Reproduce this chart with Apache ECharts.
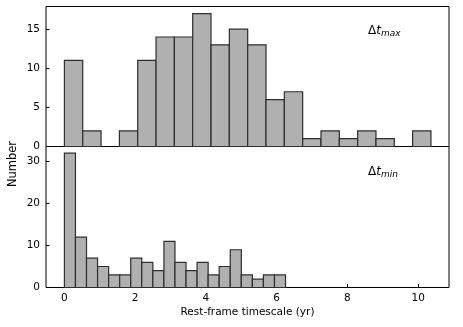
<!DOCTYPE html>
<html>
<head>
<meta charset="utf-8">
<script src="https://cdn.jsdelivr.net/npm/echarts@6/dist/echarts.min.js"></script>
<style>
  html, body { margin: 0; padding: 0; background: #fff; }
  #chart { width: 463px; height: 327px; }
</style>
</head>
<body>
<div id="chart"></div>
<script>
// histogram counts
const topCounts = [11, 2, 0, 2, 11, 14, 14, 17, 13, 15, 13, 6, 7, 1, 2, 1, 2, 1, 0, 2];
const bottomCounts = [32, 12, 7, 5, 3, 3, 7, 6, 4, 11, 6, 4, 6, 3, 5, 9, 3, 2, 3, 3];
const topBinStart = 0, topBinWidth = 0.518;
const bottomBinStart = 0, bottomBinWidth = 0.3125;
const xTicks = [0, 2, 4, 6, 8, 10];
const topYTicks = [0, 5, 10, 15];
const bottomYTicks = [0, 10, 20, 30];

const FONT = 'DejaVu Sans';
const FS = 10.5;

function toBins(counts, start, width) {
    // [left edge, right edge, count]
    return counts.map((c, i) => [start + i * width, start + (i + 1) * width, c]);
}

function renderBar(params, api) {
    const h = api.value(2);
    if (!h) return null;
    const p0 = api.coord([api.value(0), h]);
    const p1 = api.coord([api.value(1), 0]);
    return {
        type: 'rect',
        shape: { x: p0[0], y: p0[1], width: p1[0] - p0[0], height: p1[1] - p0[1] },
        style: { fill: '#b0b0b0', stroke: '#2e2e2e', lineWidth: 1.2 }
    };
}

function xAxisFor(idx, showLabels) {
    return {
        type: 'value', gridIndex: idx, min: -0.52, max: 10.87,
        splitLine: { show: false },
        axisLine: { show: false, onZero: false },
        axisTick: { inside: true, length: 3.5, customValues: xTicks, lineStyle: { color: '#000' } },
        axisLabel: { show: showLabels, customValues: xTicks, margin: 5, color: '#000', fontFamily: FONT, fontSize: FS },
        name: showLabels ? 'Rest-frame timescale (yr)' : '',
        nameLocation: 'middle', nameGap: 19,
        nameTextStyle: { color: '#000', fontFamily: FONT, fontSize: FS }
    };
}

function yAxisFor(idx, max, ticks) {
    return {
        type: 'value', gridIndex: idx, min: 0, max: max,
        splitLine: { show: false },
        axisLine: { show: false, onZero: false },
        axisTick: { inside: true, length: 3.5, customValues: ticks, lineStyle: { color: '#000' } },
        axisLabel: { customValues: ticks, margin: 6, color: '#000', fontFamily: FONT, fontSize: FS }
    };
}

function deltaLabel(x, y, sub) {
    return {
        type: 'text', x: x, y: y,
        style: {
            text: '{d|Δ}{t|t}{s|' + sub + '}',
            verticalAlign: 'middle',
            rich: {
                d: { fontFamily: FONT, fontSize: 12, fill: '#000' },
                t: { fontFamily: FONT, fontSize: 12, fontStyle: 'italic', fill: '#000' },
                s: { fontFamily: FONT, fontSize: 9, fontStyle: 'italic', fill: '#000', padding: [5, 0, 0, 0] }
            }
        }
    };
}

const chart = echarts.init(document.getElementById('chart'), null, { renderer: 'canvas' });

chart.setOption({
    animation: false,
    grid: [
        { left: 46, right: 14, top: 6.5, height: 140, show: true, borderColor: '#000', borderWidth: 1, backgroundColor: 'transparent' },
        { left: 46, right: 14, top: 146.5, height: 141, show: true, borderColor: '#000', borderWidth: 1, backgroundColor: 'transparent' }
    ],
    xAxis: [xAxisFor(0, false), xAxisFor(1, true)],
    yAxis: [yAxisFor(0, 17.9, topYTicks), yAxisFor(1, 33.6, bottomYTicks)],
    series: [
        {
            type: 'custom', xAxisIndex: 0, yAxisIndex: 0,
            renderItem: renderBar,
            encode: { x: [0, 1], y: 2 },
            data: toBins(topCounts, topBinStart, topBinWidth)
        },
        {
            type: 'custom', xAxisIndex: 1, yAxisIndex: 1,
            renderItem: renderBar,
            encode: { x: [0, 1], y: 2 },
            data: toBins(bottomCounts, bottomBinStart, bottomBinWidth)
        }
    ],
    graphic: [
        {
            type: 'text', x: 13, y: 164, rotation: Math.PI / 2,
            style: { text: 'Number', fill: '#000', font: '11.5px "DejaVu Sans"', align: 'center', verticalAlign: 'middle' }
        },
        deltaLabel(368, 31, 'max'),
        deltaLabel(368, 172, 'min')
    ]
});
</script>
</body>
</html>
